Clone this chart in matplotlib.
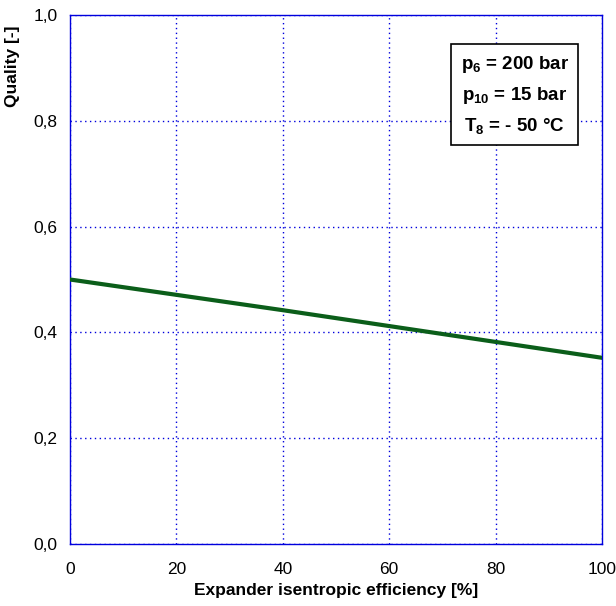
import matplotlib
matplotlib.use("Agg")
import matplotlib.pyplot as plt

plt.rcParams['font.family'] = ['Liberation Sans', 'DejaVu Sans']
plt.rcParams['mathtext.fontset'] = 'custom'
plt.rcParams['mathtext.rm'] = 'Liberation Sans:bold'
plt.rcParams['mathtext.bf'] = 'Liberation Sans:bold'
plt.rcParams['mathtext.it'] = 'Liberation Sans:bold'

# expander efficiency [%] vs quality [-]
efficiency = [0, 20, 40, 60, 80, 100]
quality = [0.500, 0.471, 0.442, 0.412, 0.382, 0.352]

x_ticks = [0, 20, 40, 60, 80, 100]
y_ticks = [0.0, 0.2, 0.4, 0.6, 0.8, 1.0]
y_labels = ["0,0", "0,2", "0,4", "0,6", "0,8", "1,0"]

fig = plt.figure(figsize=(6.16, 6.06), dpi=100)
ax = fig.add_axes([70/616, 1 - 544/606, 532/616, 529/606])

ax.plot(efficiency, quality, color="#0b5e1a", lw=3, zorder=3)

ax.set_xlim(0, 100)
ax.set_ylim(0, 1)
ax.set_xticks(x_ticks)
ax.set_yticks(y_ticks)
ax.set_yticklabels(y_labels)
ax.tick_params(length=0, labelsize=12.5)
ax.tick_params(axis="x", pad=13)
ax.tick_params(axis="y", pad=9)
ax.grid(True, color="#0000dd", linestyle=(0, (1, 2.5)), lw=1)
for s in ax.spines.values():
    s.set_color("#0000dd")
    s.set_linewidth(1)

ax.set_xlabel("Expander isentropic efficiency [%]", fontsize=12.5, fontweight="bold", labelpad=4)
ax.set_ylabel("Quality [-]", fontsize=12.5, fontweight="bold")
ax.yaxis.set_label_coords(-50/532, (544-66)/529)

txt = "$\\mathregular{p_{6}}$ = 200 bar\n$\\mathregular{p_{10}}$ = 15 bar\n$\\mathregular{T_{8}}$ = - 50 °C"
ax.text(0.836, 0.849, txt, transform=ax.transAxes, fontsize=13.5, fontweight="bold",
        ha="center", va="center", linespacing=1.65,
        bbox=dict(boxstyle="square,pad=0.5", fc="white", ec="black", lw=1.2))

fig.savefig("out.png", dpi=100)
